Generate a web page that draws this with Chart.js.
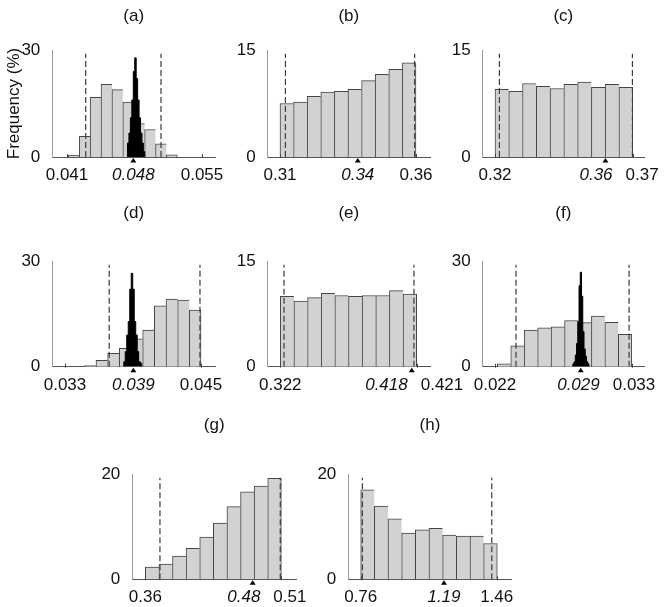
<!DOCTYPE html>
<html>
<head>
<meta charset="utf-8">
<script src="https://cdn.jsdelivr.net/npm/chart.js@4.4.1/dist/chart.umd.min.js"></script>
<style>
  html, body { margin: 0; background: #fff; }
  #fig { position: relative; width: 671px; height: 607px; }
  #fig canvas { position: absolute; }
</style>
</head>
<body>
<div id="fig"></div>
<script>
// panel titles and y-axis top
var titles = ['(a)', '(b)', '(c)', '(d)', '(e)', '(f)', '(g)', '(h)'];
var yTop = [30, 15, 15, 30, 15, 30, 20, 20];

// x-axis end ticks and their labels
var endTicks = [[0.041, 0.055], [0.31, 0.36], [0.32, 0.37], [0.033, 0.045],
                [0.322, 0.421], [0.022, 0.033], [0.36, 0.51], [0.76, 1.46]];
var endLabels = [['0.041', '0.055'], ['0.31', '0.36'], ['0.32', '0.37'], ['0.033', '0.045'],
                 ['0.322', '0.421'], ['0.022', '0.033'], ['0.36', '0.51'], ['0.76', '1.46']];

// true value (triangle) and its italic label
var trueVal = [0.04788, 0.3386, 0.3601, 0.03903, 0.4174, 0.0289, 0.4787, 1.1887];
var trueLabel = ['0.048', '0.34', '0.36', '0.039', '0.418', '0.029', '0.48', '1.19'];

// dashed bounds
var bounds = [[0.04294, 0.05075], [0.3120, 0.3595], [0.3216, 0.3699], [0.0369, 0.04491],
              [0.3247, 0.4190], [0.02369, 0.03279], [0.3762, 0.5092], [0.7685, 1.4347]];

// grey histograms: first bin edge, bin width, frequency (%)
var binStart = [0.04114, 0.31, 0.32, 0.034703, 0.322, 0.022185, 0.36, 0.76];
var binWidth = [0.00113, 0.005, 0.005, 0.00103, 0.0099, 0.001082, 0.01504, 0.0703];
var freqA = [0.5, 5.8, 16.7, 20.4, 18.9, 15.4, 9.4, 7.7, 3.7, 0.6];
var freqB = [7.5, 7.7, 8.5, 9.1, 9.2, 9.5, 10.7, 11.6, 12.3, 13.2];
var freqC = [9.5, 9.2, 10.3, 9.9, 9.6, 10.2, 10.5, 9.75, 10.2, 9.75];
var freqD = [0.3, 1.8, 3.8, 5.2, 7.9, 10.4, 17.3, 19.2, 18.9, 16.1];
var freqE = [10.0, 9.3, 9.8, 10.4, 10.1, 10.0, 10.1, 10.1, 10.8, 10.3];
var freqF = [0.85, 5.9, 10.4, 11.0, 11.3, 13.1, 12.5, 14.4, 12.6, 9.2];
var freqG = [2.3, 2.9, 4.4, 5.9, 8.0, 10.7, 13.8, 16.6, 17.7, 19.2];
var freqH = [17.0, 13.9, 11.5, 8.8, 9.4, 9.7, 8.4, 8.2, 8.2, 6.8];
var freqs = [freqA, freqB, freqC, freqD, freqE, freqF, freqG, freqH];

// black histograms (panels a, d, f)
var postPanel = [0, 3, 5];
var postStart = [0.047274, 0.038184, 0.028262];
var postWidth = [0.00015, 0.000132, 0.0001];
var postA = [3.9, 6.7, 11, 16, 24, 27.8, 22, 16, 11, 6.7, 3.9, 1.5];
var postD = [1.4, 4.3, 9, 12.8, 22, 26.5, 22, 12.8, 9, 4.3, 1.4, 1.0];
var postF = [0.8, 1.4, 3.3, 6.6, 12.8, 23, 26.8, 20, 10, 5, 3, 1.4, 0.8];
var posts = [postA, postD, postF];

// x-axis range of each panel
var xRange = [[0.039476, 0.056348], [0.30548, 0.36515], [0.31553, 0.37410], [0.031879, 0.046235],
              [0.31286, 0.43065], [0.02101, 0.03399], [0.34563, 0.52658], [0.69618, 1.5372]];

// plot areas on the page: left, top, right, bottom
var rects = [[52.3, 50, 215, 157], [267.7, 50, 430, 157], [482.7, 50, 644, 157],
             [52.3, 261, 215, 366.7], [267.7, 261, 430, 366.7], [482.7, 261, 644, 366.7],
             [132.3, 474, 296, 579.3], [348.3, 474, 511.7, 579.3]];
var titleY = [16, 16, 16, 213, 213, 213, 425, 425];

var FS = 17;
var LH = FS * 1.2;
var FONT = '"Liberation Sans", Arial, sans-serif';
Chart.defaults.font.family = FONT;
Chart.defaults.font.size = FS;
Chart.defaults.color = '#111';

var marks = {
  id: 'marks',
  afterDraw: function (chart, args, o) {
    var p = o.panel;
    var xs = chart.scales.x, ctx = chart.ctx, b = chart.chartArea.bottom;
    ctx.save();
    ctx.strokeStyle = '#444';
    ctx.lineWidth = 1;
    endTicks[p].forEach(function (v) {
      var px = Math.round(xs.getPixelForValue(v)) + 0.5;
      ctx.beginPath(); ctx.moveTo(px, b - 3); ctx.lineTo(px, b + 1); ctx.stroke();
    });
    var tx = xs.getPixelForValue(trueVal[p]);
    ctx.fillStyle = '#000';
    ctx.beginPath();
    ctx.moveTo(tx, b + 1); ctx.lineTo(tx - 3, b + 5.5); ctx.lineTo(tx + 3, b + 5.5);
    ctx.closePath(); ctx.fill();

    var items = [
      { v: endTicks[p][0], t: endLabels[p][0], f: 'normal' },
      { v: trueVal[p], t: trueLabel[p], f: 'italic' },
      { v: endTicks[p][1], t: endLabels[p][1], f: 'normal' }
    ];
    items.forEach(function (it) {
      ctx.font = it.f + ' ' + FS + 'px ' + FONT;
      it.w = ctx.measureText(it.t).width;
      it.x = xs.getPixelForValue(it.v);
    });
    for (var i = 0; i < 2; i++) {
      var a = items[i], c = items[i + 1];
      var over = (a.x + a.w / 2 + 13) - (c.x - c.w / 2);
      if (over > 0) { a.x -= over / 2; c.x += over / 2; }
    }
    ctx.fillStyle = '#111';
    ctx.textAlign = 'center';
    ctx.textBaseline = 'alphabetic';
    items.forEach(function (it) {
      ctx.font = it.f + ' ' + FS + 'px ' + FONT;
      ctx.fillText(it.t, it.x, b + 23);
    });
    ctx.restore();
  }
};

var fig = document.getElementById('fig');

titles.forEach(function (title, p) {
  var l = rects[p][0], t = rects[p][1], r = rects[p][2], b = rects[p][3];
  var cl = p === 0 || p === 3 ? 0 : Math.round(l - 50);
  var yW = l - cl;
  var ct = Math.round(titleY[p] - LH / 2);
  var padTitle = t - ct - LH;
  var cw = Math.round(r - cl + 42);
  var padR = cw - (r - cl);
  var xH = 40;
  var ch = Math.round(b - ct + 44);
  var padB = ch - (b - ct) - xH;

  var canvas = document.createElement('canvas');
  canvas.width = cw;
  canvas.height = ch;
  canvas.style.left = cl + 'px';
  canvas.style.top = ct + 'px';
  fig.appendChild(canvas);

  var datasets = [];
  datasets.push({
    type: 'bar',
    order: 3,
    data: freqs[p].map(function (f, i) { return { x: binStart[p] + (i + 0.5) * binWidth[p], y: f }; }),
    backgroundColor: '#d2d2d2',
    borderColor: '#444',
    borderWidth: function (c) {
      return c.dataIndex === freqs[p].length - 1 ? { top: 1, left: 1, right: 1, bottom: 0 } : { top: 1, left: 1, right: 0, bottom: 0 };
    },
    borderSkipped: false,
    barThickness: 'flex',
    categoryPercentage: 1,
    barPercentage: 1
  });

  // black histogram as a filled step outline
  var k = postPanel.indexOf(p);
  if (k >= 0) {
    var pts = [{ x: postStart[k], y: 0 }];
    posts[k].forEach(function (f, i) { pts.push({ x: postStart[k] + i * postWidth[k], y: f }); });
    pts.push({ x: postStart[k] + posts[k].length * postWidth[k], y: 0 });
    datasets.push({
      type: 'line',
      order: 0,
      data: pts,
      stepped: 'before',
      fill: 'origin',
      backgroundColor: '#000',
      borderColor: '#000',
      borderWidth: 1,
      pointRadius: 0
    });
  }

  bounds[p].forEach(function (v) {
    datasets.push({
      type: 'line',
      order: 1,
      data: [{ x: v, y: 0 }, { x: v, y: yTop[p] * 0.965 }],
      borderColor: '#3a3a3a',
      borderWidth: 1.2,
      borderDash: [6, 3],
      pointRadius: 0
    });
  });

  new Chart(canvas, {
    type: 'bar',
    data: { datasets: datasets },
    options: {
      responsive: false,
      animation: false,
      events: [],
      layout: { padding: { left: 0, top: 0, right: padR, bottom: padB } },
      plugins: {
        legend: { display: false },
        tooltip: { enabled: false },
        title: {
          display: true,
          text: title,
          fullSize: false,
          color: '#111',
          font: { size: FS, weight: 'normal' },
          padding: { top: 0, bottom: padTitle }
        },
        marks: { panel: p }
      },
      scales: {
        x: {
          type: 'linear',
          min: xRange[p][0],
          max: xRange[p][1],
          offset: false,
          ticks: { display: false },
          grid: { display: false },
          border: { color: '#555', width: 1 },
          afterFit: function (s) { s.height = xH; }
        },
        y: {
          min: 0,
          max: yTop[p],
          afterBuildTicks: function (s) { s.ticks = [{ value: 0 }, { value: yTop[p] }]; },
          ticks: { padding: 4, color: '#111', font: { size: FS }, callback: function (v) { return String(v); } },
          grid: { display: false },
          border: { color: '#999', width: 1 },
          title: {
            display: p === 0,
            text: 'Frequency (%)',
            color: '#111',
            font: { size: FS },
            padding: { top: 4, bottom: 0 }
          },
          afterFit: function (s) { s.width = yW; }
        }
      }
    },
    plugins: [marks]
  });
});
</script>
</body>
</html>
